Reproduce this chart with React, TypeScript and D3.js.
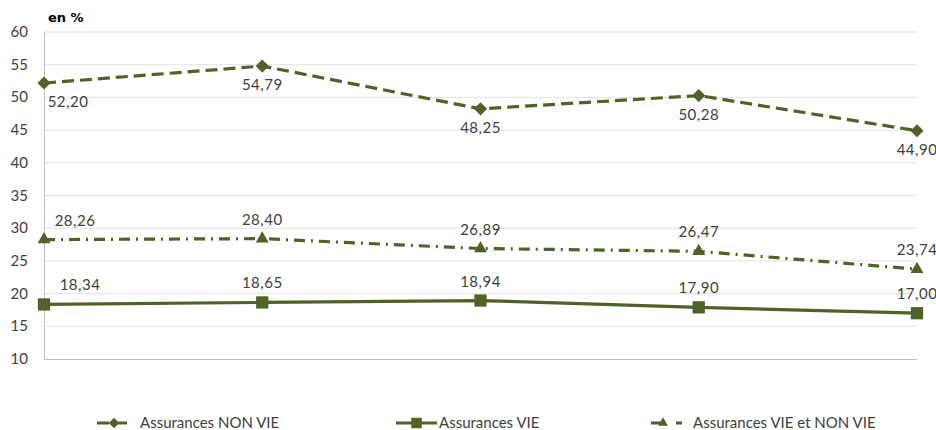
import * as d3 from "d3";
import { useEffect, useRef } from "react";

const categories = ["P1", "P2", "P3", "P4", "P5"];
const nonVie = [52.2, 54.79, 48.25, 50.28, 44.9];
const vie = [18.34, 18.65, 18.94, 17.9, 17.0];
const vieEtNonVie = [28.26, 28.4, 26.89, 26.47, 23.74];
const yTicks = [10, 15, 20, 25, 30, 35, 40, 45, 50, 55, 60];

const COLOR = "#4f6228";
const TEXT = "#404040";
const FONT = "Lato, 'Open Sans', sans-serif";

const fmt = (v: number) => v.toFixed(2).replace(".", ",");

export default function App() {
  const ref = useRef<SVGSVGElement | null>(null);

  useEffect(() => {
    const width = 936;
    const height = 430;
    const svg = d3.select(ref.current);
    svg.selectAll("*").remove();
    svg.attr("width", width).attr("height", height);

    const x = d3.scalePoint<string>().domain(categories).range([44, 917]);
    const y = d3.scaleLinear().domain([10, 60]).range([359, 32]);

    // gridlines
    svg
      .append("g")
      .selectAll("line")
      .data(yTicks.filter((t) => t > 10))
      .enter()
      .append("line")
      .attr("x1", 44)
      .attr("x2", 917)
      .attr("y1", (d) => y(d))
      .attr("y2", (d) => y(d))
      .attr("stroke", "#e3e3e3")
      .attr("stroke-width", 1);

    // axes
    svg
      .append("line")
      .attr("x1", 44.5)
      .attr("x2", 44.5)
      .attr("y1", y(60))
      .attr("y2", y(10))
      .attr("stroke", "#bfbfbf");
    svg
      .append("line")
      .attr("x1", 44)
      .attr("x2", 917)
      .attr("y1", y(10) + 0.5)
      .attr("y2", y(10) + 0.5)
      .attr("stroke", "#bfbfbf");

    svg
      .append("g")
      .selectAll("text")
      .data(yTicks)
      .enter()
      .append("text")
      .attr("x", 28)
      .attr("y", (d) => y(d) + 5)
      .attr("text-anchor", "end")
      .style("font-family", FONT)
      .style("font-size", "15px")
      .style("fill", TEXT)
      .text((d) => d);

    svg
      .append("text")
      .attr("x", 48)
      .attr("y", 22)
      .style("font-family", "'DejaVu Sans', Verdana, sans-serif")
      .style("font-weight", "bold")
      .style("font-size", "13px")
      .style("fill", "#000")
      .text("en %");

    const series = [
      { name: "Assurances NON VIE", values: nonVie, dash: "12,6", marker: "diamond", below: true, firstDx: 24 },
      { name: "Assurances VIE", values: vie, dash: "", marker: "square", below: false, firstDx: 36 },
      { name: "Assurances VIE et NON VIE", values: vieEtNonVie, dash: "11,6,2,6", marker: "triangle", below: false, firstDx: 31 },
    ];

    const symbolFor = (m: string) =>
      m === "diamond"
        ? d3.symbol().type(d3.symbolDiamond2).size(110)
        : m === "square"
          ? d3.symbol().type(d3.symbolSquare).size(150)
          : d3.symbol().type(d3.symbolTriangle2).size(120);

    const line = d3
      .line<number>()
      .x((_, i) => x(categories[i])!)
      .y((d) => y(d));

    series.forEach((s) => {
      svg
        .append("path")
        .attr("d", line(s.values))
        .attr("fill", "none")
        .attr("stroke", COLOR)
        .attr("stroke-width", 3.2)
        .attr("stroke-dasharray", s.dash || null);

      const sym = symbolFor(s.marker);
      svg
        .append("g")
        .selectAll("path")
        .data(s.values)
        .enter()
        .append("path")
        .attr("d", sym()!)
        .attr("transform", (d, i) => `translate(${x(categories[i])},${y(d)})`)
        .attr("fill", COLOR);

      svg
        .append("g")
        .selectAll("text")
        .data(s.values)
        .enter()
        .append("text")
        .attr("x", (_, i) => x(categories[i])! + (i === 0 ? s.firstDx : 0))
        .attr("y", (d) => y(d) + (s.below ? 24 : -14))
        .attr("text-anchor", "middle")
        .style("font-family", FONT)
        .style("font-size", "15px")
        .style("letter-spacing", "0.5px")
        .style("fill", TEXT)
        .text((d) => fmt(d));
    });

    // legend
    const legendItems = [
      { s: series[0], x0: 97, x1: 131, tx: 140, dash: "12,6" },
      { s: series[1], x0: 396, x1: 437, tx: 439, dash: "" },
      { s: series[2], x0: 651, x1: 690, tx: 693, dash: "11,14,6,20" },
    ];
    const ly = 423;
    legendItems.forEach((it) => {
      const g = svg.append("g");
      g.append("line")
        .attr("x1", it.x0)
        .attr("x2", it.x1)
        .attr("y1", ly)
        .attr("y2", ly)
        .attr("stroke", COLOR)
        .attr("stroke-width", 3.2)
        .attr("stroke-dasharray", it.dash || null);
      g.append("path")
        .attr("d", symbolFor(it.s.marker).size(it.s.marker === "square" ? 110 : 70)()!)
        .attr("transform", `translate(${it.s.marker === "triangle" ? 663 : (it.x0 + it.x1) / 2},${ly})`)
        .attr("fill", COLOR);
      g.append("text")
        .attr("x", it.tx)
        .attr("y", ly + 5)
        .style("font-family", FONT)
        .style("font-size", "15px")
        .style("fill", TEXT)
        .text(it.s.name);
    });
  }, []);

  return (
    <div style={{ position: "absolute", left: 0, top: 0, background: "#fff" }}>
      <svg ref={ref}></svg>
    </div>
  );
}
